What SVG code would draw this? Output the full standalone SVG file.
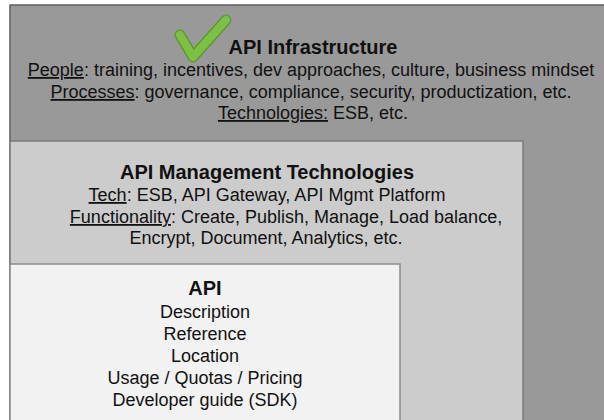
<svg xmlns="http://www.w3.org/2000/svg" width="604" height="420" viewBox="0 0 604 420">
  <style>
    .layer { stroke-width: 1.5; }
    .outer { fill: #999999; stroke: #5f5f5f; }
    .middle { fill: #cccccc; stroke: #7a7a7a; }
    .inner { fill: #f2f2f2; stroke: #8a8a8a; }
    text { font-family: "Liberation Sans", Arial, sans-serif; fill: #111111; text-anchor: middle; }
    .title { font-weight: bold; font-size: 20px; }
    .body { font-size: 18px; }
    .u { text-decoration: underline; }
    .check { fill: none; stroke-linecap: round; stroke-linejoin: round; }
  </style>

  <!-- Outer layer: API Infrastructure -->
  <g id="api-infrastructure">
    <rect class="layer outer" x="10" y="5" width="640" height="440"/>
    <!-- green check mark -->
    <path class="check" d="M180 35 L193 57 L226 20" stroke="#5b9a2e" stroke-width="11"/>
    <path class="check" d="M180 35 L193 57 L226 20" stroke="#7cc143" stroke-width="8"/>
    <text class="title" x="313" y="54">API Infrastructure</text>
    <text class="body" x="311" y="76"><tspan class="u">People</tspan>: training, incentives, dev approaches, culture, business mindset</text>
    <text class="body" x="311" y="98"><tspan class="u">Processes</tspan>: governance, compliance, security, productization, etc.</text>
    <text class="body" x="313" y="119"><tspan class="u">Technologies:</tspan> ESB, etc.</text>
  </g>

  <!-- Middle layer: API Management Technologies -->
  <g id="api-management">
    <rect class="layer middle" x="10" y="141" width="513" height="300"/>
    <text class="title" x="267" y="179">API Management Technologies</text>
    <text class="body" x="267" y="201"><tspan class="u">Tech</tspan>: ESB, API Gateway, API Mgmt Platform</text>
    <text class="body" x="286" y="223"><tspan class="u">Functionality</tspan>: Create, Publish, Manage, Load balance,</text>
    <text class="body" x="266" y="244">Encrypt, Document, Analytics, etc.</text>
  </g>

  <!-- Inner layer: API -->
  <g id="api">
    <rect class="layer inner" x="10" y="264" width="390" height="180"/>
    <text class="title" x="205" y="295">API</text>
    <text class="body" x="205" y="318">Description</text>
    <text class="body" x="205" y="340">Reference</text>
    <text class="body" x="205" y="362">Location</text>
    <text class="body" x="205" y="384">Usage / Quotas / Pricing</text>
    <text class="body" x="205" y="406">Developer guide (SDK)</text>
  </g>
</svg>
